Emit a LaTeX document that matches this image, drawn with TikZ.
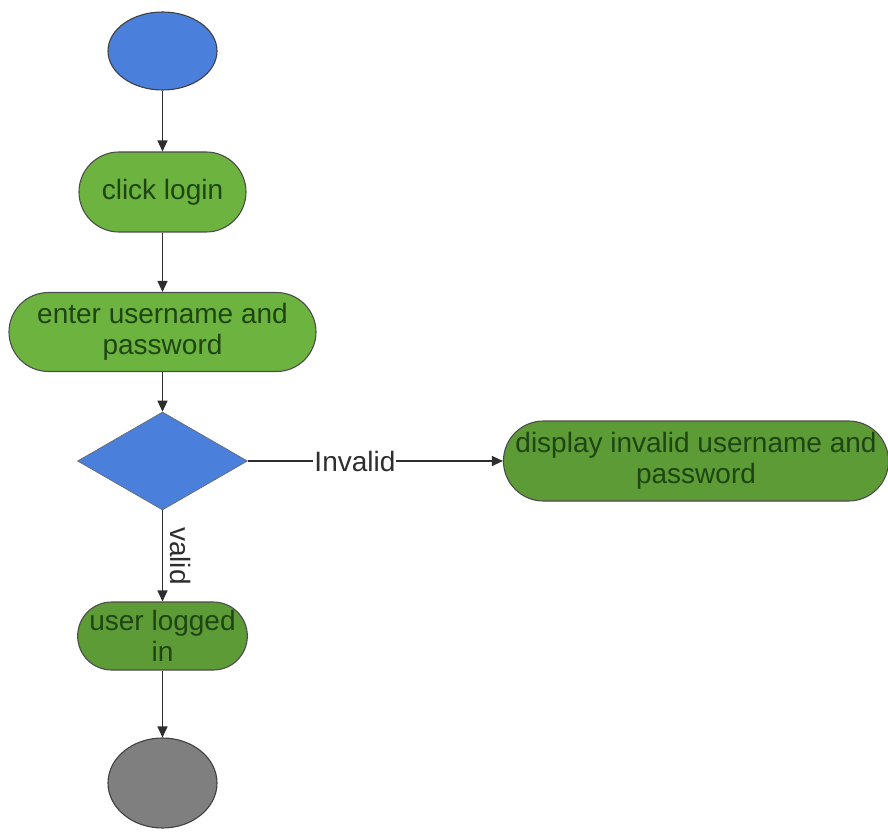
\documentclass[tikz,border=0pt]{standalone}
\usepackage{fontspec}
\setmainfont{Liberation Sans}
\usetikzlibrary{shapes.geometric,shapes.misc,arrows.meta}

\definecolor{flowblue}{HTML}{4A7FDB}
\definecolor{lightgreen}{HTML}{6DB33F}
\definecolor{darkgreen}{HTML}{5C9B35}
\definecolor{endgray}{HTML}{7F7F7F}
\definecolor{textgreen}{HTML}{1E4512}
\definecolor{linegray}{HTML}{2E2E2E}

\begin{document}
\begin{tikzpicture}[x=1pt,y=-1pt,
  every node/.style={font=\fontsize{28}{31}\selectfont},
  pill/.style={rounded rectangle, draw=black!70, line width=1.1pt,
    text=textgreen, align=center, inner sep=0pt},
  terminal/.style={ellipse, draw=black!75, line width=1.1pt, inner sep=0pt},
  decision/.style={diamond, draw=black!60, line width=0.6pt, fill=flowblue,
    inner sep=0pt},
  flow/.style={draw=linegray, line width=1.4pt,
    -{Triangle[length=11pt,width=10pt]}},
  edgelabel/.style={text=linegray}
]
\useasboundingbox (0,0) rectangle (888,834);

% start and end markers
\node[terminal, fill=flowblue, minimum width=109pt, minimum height=78pt] (start) at (162.5,51) {};
\node[terminal, fill=endgray, minimum width=109pt, minimum height=90pt] (stop) at (162.5,783) {};

% activities
\node[pill, fill=lightgreen, minimum width=167pt, minimum height=80pt] (click) at (162.5,192) {click login};
\node[pill, fill=lightgreen, minimum width=307pt, minimum height=79pt] (enter) at (162.5,332) {enter username and\\password};
\node[pill, fill=darkgreen, minimum width=382pt, minimum height=80pt] (display) at (696,461) {display invalid username and\\password};
\node[pill, fill=darkgreen, minimum width=169pt, minimum height=68pt] (logged) at (162.5,636) {user logged\\in};

% credential check
\node[decision, minimum width=170pt, minimum height=98pt, shape aspect=1.735] (check) at (162.5,461) {};

% connectors
\draw[flow] (start.south) -- (click.north);
\draw[flow] (click.south) -- (enter.north);
\draw[flow] (enter.south) -- (check.north);
\draw[flow] (check.east) -- node[edgelabel, fill=white, inner sep=1pt, pos=0.42] {Invalid} (display.west);
\draw[flow] (check.south) -- node[edgelabel, midway, rotate=-90, anchor=south, inner sep=7pt] {valid} (logged.north);
\draw[flow] (logged.south) -- (stop.north);
\end{tikzpicture}
\end{document}
